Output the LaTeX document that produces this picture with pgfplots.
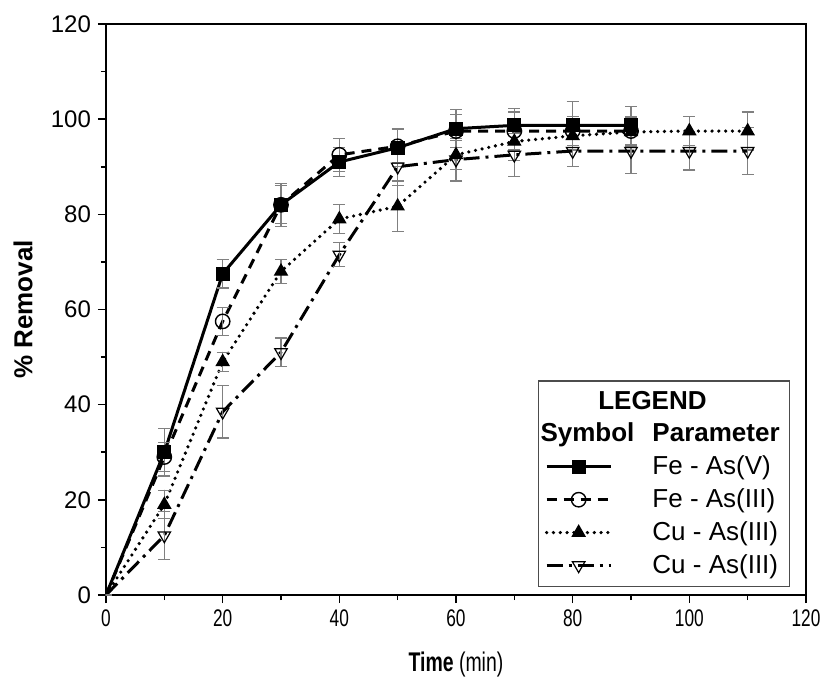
\documentclass[border=0pt]{standalone}
\usepackage{fontspec}
\setmainfont{Liberation Sans}
\newfontfamily\narrowfont[FakeStretch=0.72]{Liberation Sans}
\usepackage{pgfplots}
\pgfplotsset{compat=1.18}

\begin{document}
\begin{tikzpicture}
\begin{axis}[
  scale only axis,
  width=350pt, height=285.5pt,
  xmin=0, xmax=120, ymin=0, ymax=120,
  xtick distance=20, ytick distance=20,
  minor tick num=1,
  tick align=outside,
  xtick pos=left, ytick pos=left,
  major tick length=4pt, minor tick length=2.5pt,
  every tick/.style={black, line width=0.8pt},
  axis line style={line width=0.9pt},
  /pgf/number format/assume math mode=true,
  x tick label style={font=\fontsize{12}{14}\narrowfont},
  y tick label style={font=\fontsize{12}{14}\selectfont},
  xlabel={\textbf{Time} (min)},
  ylabel={\textbf{\% Removal}},
  xlabel style={font=\fontsize{13.5}{16}\narrowfont, at={(axis description cs:0.5,0)}, anchor=center, yshift=-35pt},
  ylabel style={font=\fontsize{13}{16}\selectfont, at={(axis description cs:0,0.5)}, anchor=center, yshift=41.5pt},
  error bars/y dir=both, error bars/y explicit,
  error bars/error bar style={gray, line width=0.6pt, solid},
  error bars/error mark options={rotate=90, gray, mark size=3pt, line width=0.6pt},
  legend image code/.code={\draw[#1, mark indices={2}] plot coordinates {(0pt,0pt) (16pt,0pt) (32pt,0pt)};},
  legend cell align=left,
  legend style={at={(axis cs:117.3,1.7)}, anchor=south east, draw=black!70, line width=0.6pt,
    font=\fontsize{13}{15}\selectfont, column sep=18pt, row sep=1.5pt,
    inner xsep=3pt, inner ysep=3pt},
]
\addlegendimage{empty legend}
\addlegendentry{\makebox[0pt][c]{\textbf{LEGEND}}}
\addlegendimage{empty legend}
\addlegendentry{\llap{\textbf{Symbol}\hspace{9pt}}\textbf{Parameter}}

\addplot+[black, solid, line width=1.5pt, mark=square*, mark size=2.7pt,
  mark options={solid, fill=black}, mark indices={2,...,12}]
  coordinates {
  (0,0) +- (0,0)
  (10,30) +- (0,5)
  (20,67.5) +- (0,3)
  (30,82) +- (0,4.5)
  (40,91) +- (0,3)
  (50,94) +- (0,4)
  (60,98) +- (0,4)
  (70,98.7) +- (0,3.5)
  (80,98.7) +- (0,5)
  (90,98.7) +- (0,4)
};
\addlegendentry{Fe - As(V)}

\addplot+[black, line width=1.5pt, dash pattern=on 5pt off 3.5pt, mark=o, mark size=3.6pt,
  mark options={solid, fill=white, line width=0.7pt}, mark indices={2,...,12}]
  coordinates {
  (0,0) +- (0,0)
  (10,29) +- (0,3)
  (20,57.5) +- (0,3)
  (30,82) +- (0,4)
  (40,92.5) +- (0,3.5)
  (50,94.3) +- (0,3.5)
  (60,97.5) +- (0,3.5)
  (70,97.5) +- (0,4)
  (80,97.5) +- (0,3)
  (90,97.5) +- (0,3)
};
\addlegendentry{Fe - As(III)}

\addplot+[black, line width=1.8pt, line cap=round, dash pattern=on 0pt off 3.4pt, mark=triangle*, mark size=3.6pt,
  mark options={solid, fill=black, line cap=butt, line width=0.6pt}, mark indices={2,...,12}]
  coordinates {
  (0,0) +- (0,0)
  (10,19) +- (0,3)
  (20,49) +- (0,2)
  (30,68) +- (0,2.5)
  (40,79) +- (0,3)
  (50,81.7) +- (0,5.3)
  (60,92.5) +- (0,3)
  (70,95.3) +- (0,4)
  (80,96.5) +- (0,3)
  (90,97.3) +- (0,3)
  (100,97.5) +- (0,3)
  (110,97.5) +- (0,4)
};
\addlegendentry{Cu - As(III)}

\addplot+[black, line width=1.5pt, dash pattern=on 8pt off 3pt on 1.5pt off 3pt, mark=triangle, mark size=3.6pt,
  mark options={solid, rotate=180, fill=white, line width=0.6pt}, mark indices={2,...,12}]
  coordinates {
  (0,0) +- (0,0)
  (10,12.5) +- (0,5)
  (20,38.5) +- (0,5.5)
  (30,51) +- (0,3)
  (40,71.5) +- (0,2.5)
  (50,90) +- (0,4)
  (60,91.5) +- (0,4.5)
  (70,92.5) +- (0,4.5)
  (80,93.3) +- (0,3.3)
  (90,93.3) +- (0,4.7)
  (100,93.3) +- (0,4)
  (110,93.3) +- (0,5)
};
\addlegendentry{Cu - As(III)}
\end{axis}
\path[use as bounding box] (-53pt,-45pt) rectangle (364.5pt,297.5pt);
\end{tikzpicture}
\end{document}
